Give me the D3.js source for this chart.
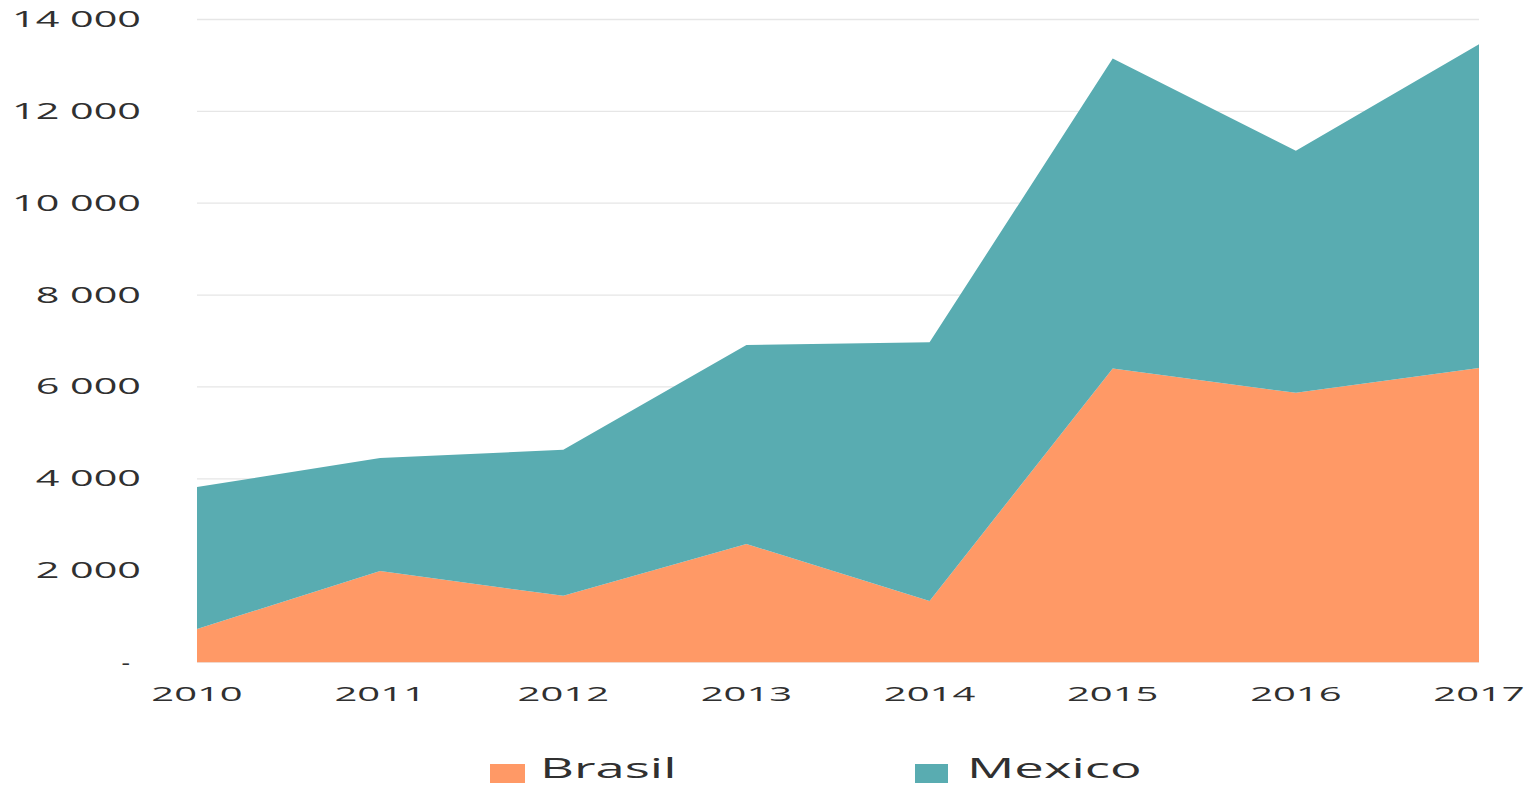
<!DOCTYPE html>
<html><head><meta charset="utf-8">
<script src="https://cdn.jsdelivr.net/npm/d3@7"></script>
<style>
html,body{margin:0;padding:0;background:#fff;}
svg{display:block;}
text{font-family:"Open Sans",sans-serif;fill:#303030;}
</style></head>
<body><svg id="c" width="1532" height="786"></svg>
<script>
const years = ["2010","2011","2012","2013","2014","2015","2016","2017"];
const brasil = [720,1980,1440,2570,1330,6390,5860,6400];
const mexico = [3090,2460,3180,4330,5630,6750,5270,7050];
const yTicks = [0,2000,4000,6000,8000,10000,12000,14000];
const seriesNames = ["Brasil","Mexico"];
const colors = ["#FF9966","#59ACB1"];

const svg = d3.select("#c");
const x = d3.scalePoint().domain(years).range([197,1479]);
const y = d3.scaleLinear().domain([0,14000]).range([662,19]);

const loc = d3.formatLocale({decimal:",",thousands:"\u00a0",grouping:[3],currency:["",""]});
const fmt = loc.format(",d");

const rows = years.map((yr,i)=>({year:yr, Brasil:brasil[i], Mexico:mexico[i]}));
const stack = d3.stack().keys(seriesNames)(rows);

// grid
svg.append("g").selectAll("line").data(yTicks.filter(d=>d>0)).join("line")
  .attr("x1",197).attr("x2",1479)
  .attr("y1",d=>y(d)+0.5).attr("y2",d=>y(d)+0.5)
  .attr("stroke","#e6e6e6").attr("stroke-width",1.3);

const area = d3.area().x(d=>x(d.data.year)).y0(d=>y(d[0])).y1(d=>y(d[1]));
svg.append("g").selectAll("path").data(stack).join("path")
  .attr("d",area).attr("fill",(d,i)=>colors[i]);

// baseline
svg.append("line").attr("x1",197).attr("x2",1479).attr("y1",662.5).attr("y2",662.5)
  .attr("stroke","#f0d8cc").attr("stroke-width",1);

// y labels
svg.append("g").selectAll("text").data(yTicks).join("text")
  .attr("transform",d=>`translate(${d===0?130:141},${y(d)+8}) scale(${d===0?1.2:1.88},1)`)
  .attr("text-anchor","end")
  .style("font-size","22px")
  .text(d=>d===0?"-":fmt(d));

// x labels
svg.append("g").selectAll("text").data(years).join("text")
  .attr("transform",d=>`translate(${x(d)},701) scale(2.0,1)`)
  .attr("text-anchor","middle")
  .style("font-size","20px")
  .text(d=>d);

// legend
const legX = [490,915];
const lg = svg.append("g").selectAll("g").data(seriesNames).join("g");
lg.append("rect").attr("x",(d,i)=>legX[i]).attr("y",764).attr("width",(d,i)=>i===0?35:33).attr("height",19)
  .attr("fill",(d,i)=>colors[i]);
lg.append("text")
  .attr("transform",(d,i)=>`translate(${legX[i]+(i===0?50:52)},777.5) scale(1.88,1)`)
  .style("font-size","28px")
  .text(d=>d);
</script>
</body></html>
